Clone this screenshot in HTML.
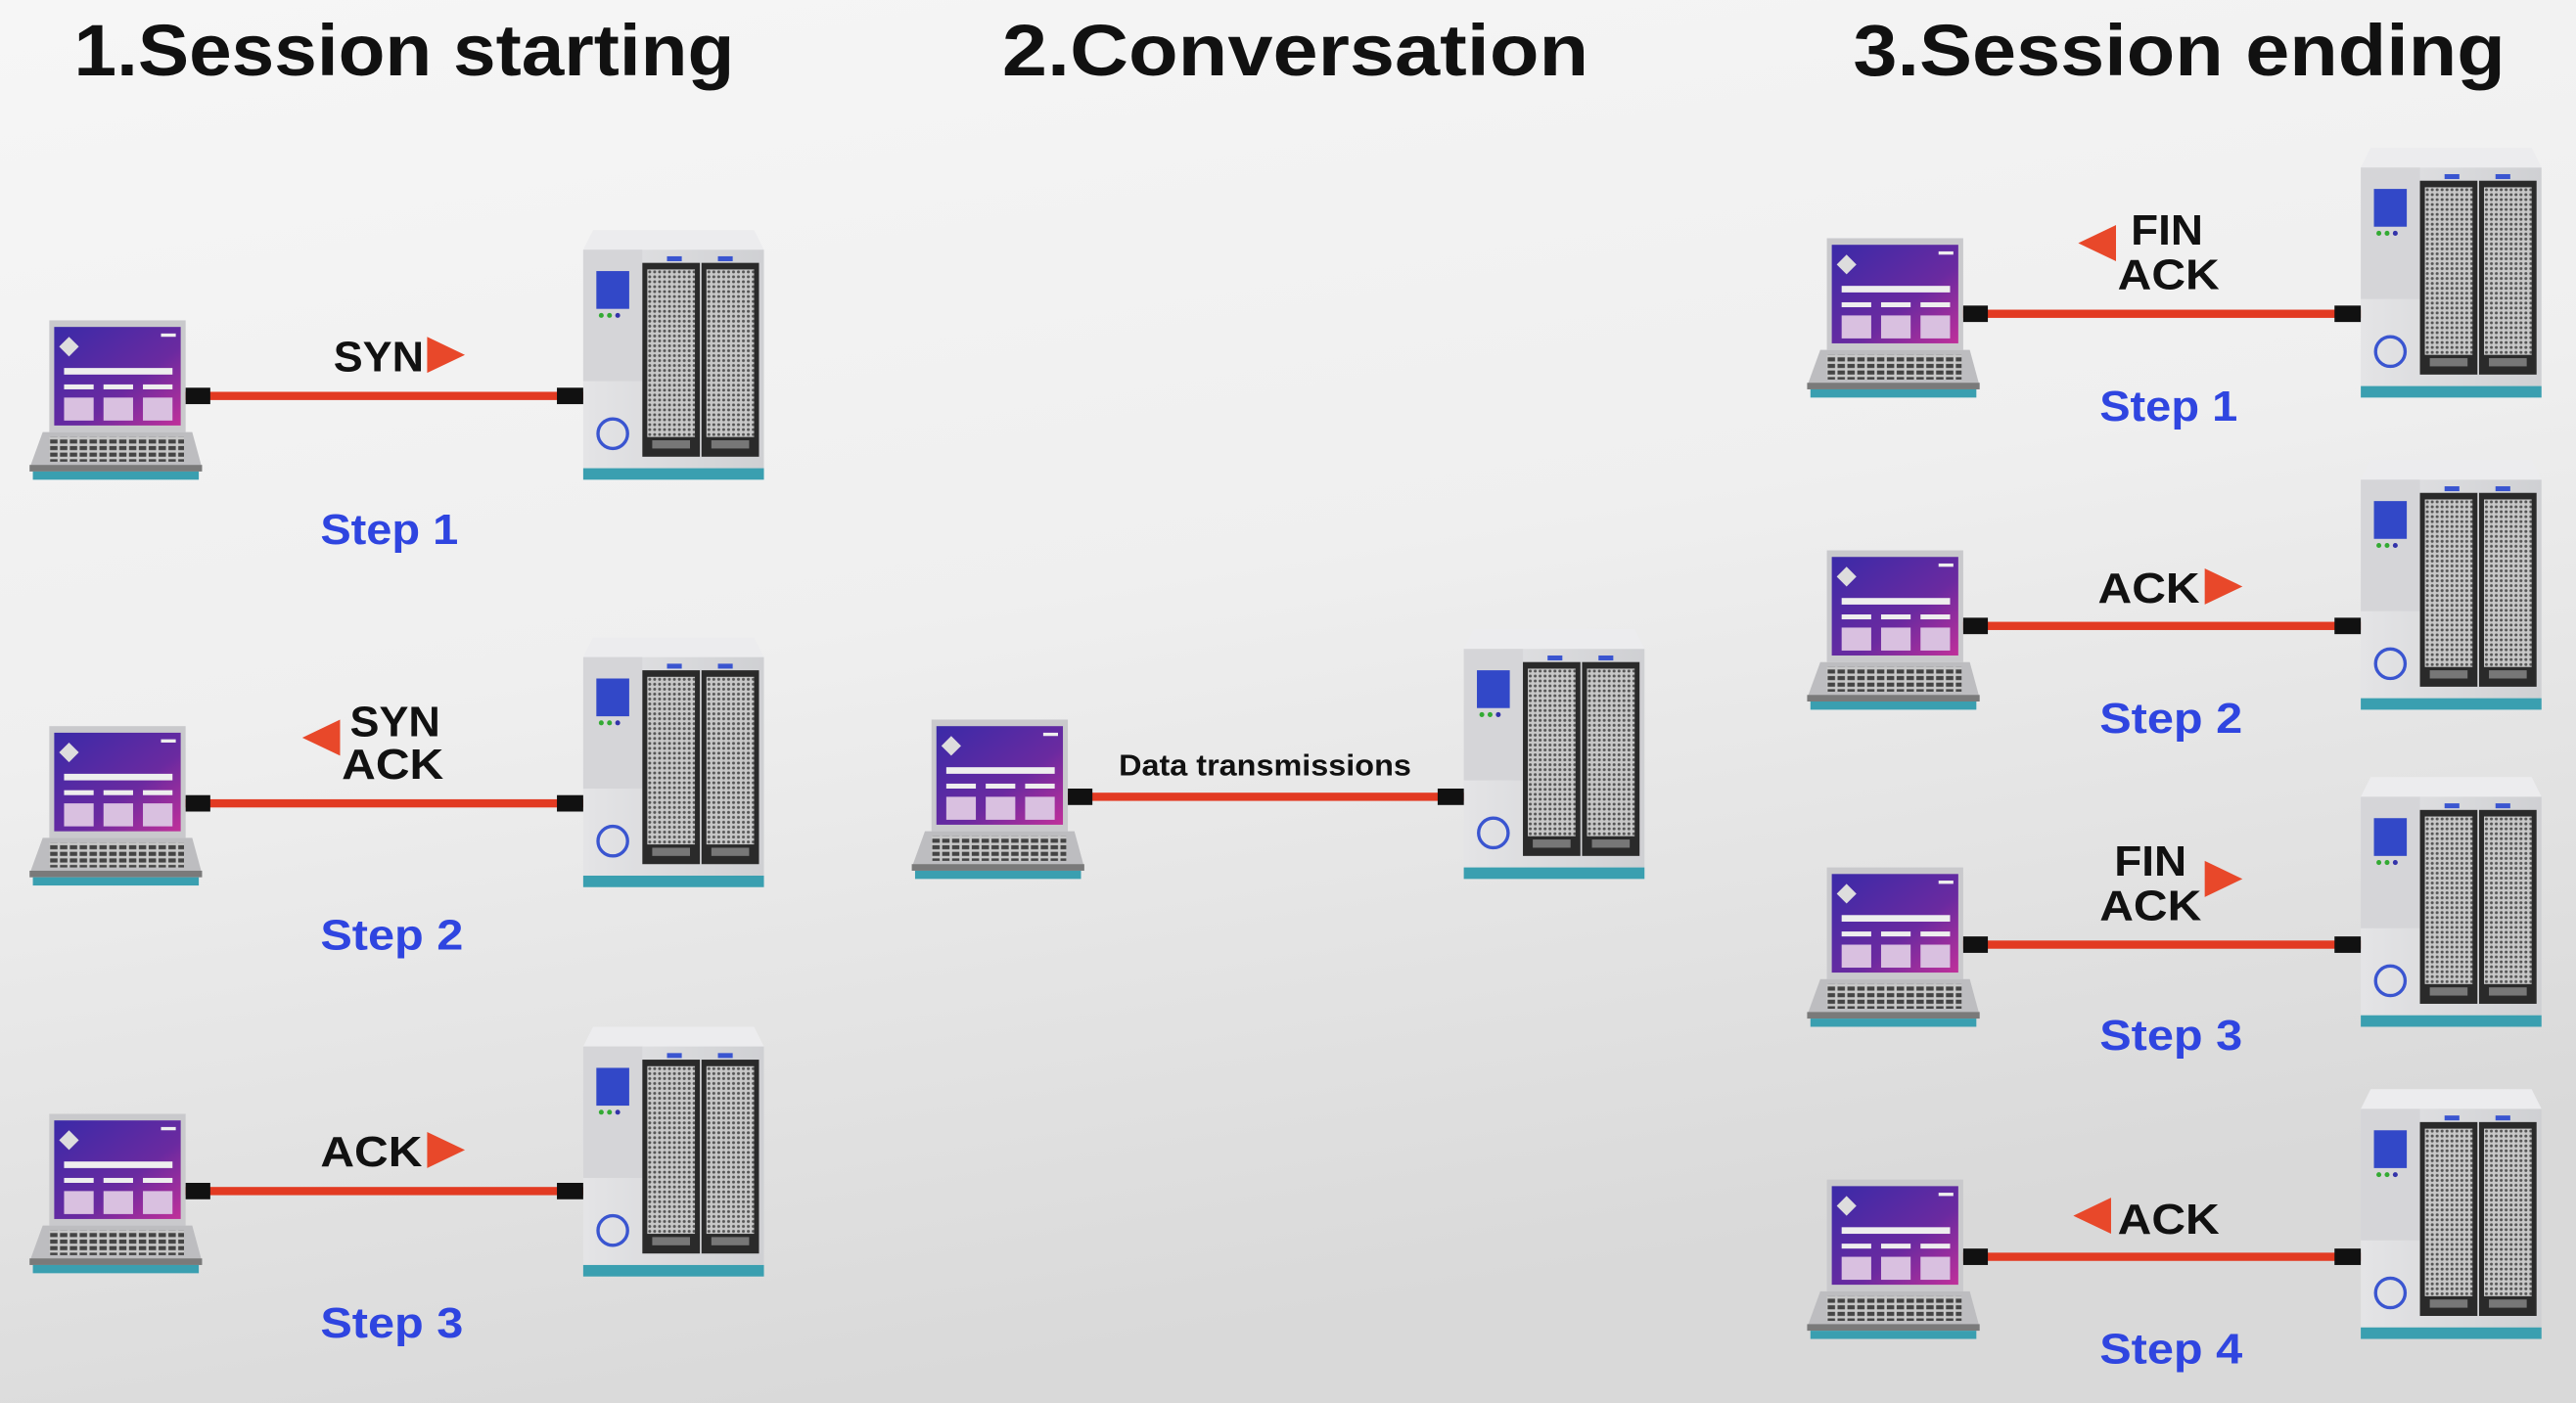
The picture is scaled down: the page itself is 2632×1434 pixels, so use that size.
<!DOCTYPE html>
<html><head><meta charset="utf-8"><style>
html,body{margin:0;padding:0;width:2632px;height:1434px;overflow:hidden}
svg{display:block}
text{font-family:"Liberation Sans",sans-serif}
</style></head><body>
<svg width="2632" height="1434" viewBox="0 0 1568 854" preserveAspectRatio="none" xmlns="http://www.w3.org/2000/svg">
<defs>
<linearGradient id="bg" x1="0" y1="0" x2="0.3" y2="1">
<stop offset="0" stop-color="#f6f6f6"/><stop offset="0.5" stop-color="#efefef"/><stop offset="1" stop-color="#d9d9d9"/></linearGradient>
<linearGradient id="scr" x1="0" y1="0" x2="1" y2="1">
<stop offset="0" stop-color="#3a2aa8"/><stop offset="0.6" stop-color="#6a2aa0"/><stop offset="1" stop-color="#c0309a"/></linearGradient>
<linearGradient id="srv" x1="0" y1="0" x2="1" y2="0">
<stop offset="0" stop-color="#e4e4e6"/><stop offset="1" stop-color="#cfd0d3"/></linearGradient>
<pattern id="dots" width="3" height="3" patternUnits="userSpaceOnUse">
<rect width="3" height="3" fill="#c8c8c8"/><circle cx="1.5" cy="1.5" r="0.9" fill="#555"/></pattern>
<pattern id="keys" width="6" height="4" patternUnits="userSpaceOnUse">
<rect width="6" height="4" fill="#c8c8c8"/><rect x="0.5" y="0.5" width="4.5" height="2.5" fill="#444"/></pattern>
<g id="laptop">
<rect x="12" y="0" width="83" height="68" fill="#c9c9cc"/>
<rect x="15" y="4" width="77" height="60" fill="url(#scr)"/>
<path d="M24 10 l6 6 -6 6 -6 -6z" fill="#ddd"/>
<rect x="80" y="8" width="9" height="2" fill="#eee"/>
<rect x="21" y="29" width="66" height="4" fill="#eee"/>
<rect x="21" y="39" width="18" height="3" fill="#eee"/><rect x="45" y="39" width="18" height="3" fill="#eee"/><rect x="69" y="39" width="18" height="3" fill="#eee"/>
<rect x="21" y="47" width="18" height="14" fill="#d9c0e0"/><rect x="45" y="47" width="18" height="14" fill="#d9c0e0"/><rect x="69" y="47" width="18" height="14" fill="#d9c0e0"/>
<path d="M8 68 L99 68 L105 90 L0 90 Z" fill="#bdbdc0"/>
<rect x="12" y="71" width="82" height="15" fill="url(#keys)"/>
<rect x="0" y="88" width="105" height="4" fill="#7a7a7a"/>
<rect x="2" y="92" width="101" height="5" fill="#3a9fb0"/>
</g>
<g id="server">
<path d="M6 0 L104 0 L110 12 L0 12 Z" fill="#ececee"/>
<rect x="0" y="12" width="110" height="133" fill="url(#srv)"/>
<rect x="0" y="12" width="36" height="80" fill="#d5d5d8"/>
<rect x="8" y="25" width="20" height="23" fill="#3248c8"/>
<circle cx="11" cy="52" r="1.5" fill="#3a3"/><circle cx="16" cy="52" r="1.5" fill="#3a3"/><circle cx="21" cy="52" r="1.5" fill="#33a"/>
<circle cx="18" cy="124" r="9" fill="none" stroke="#3a55d0" stroke-width="2"/>
<rect x="51" y="16" width="9" height="3" fill="#3a55d0"/><rect x="82" y="16" width="9" height="3" fill="#3a55d0"/>
<rect x="36" y="20" width="35" height="118" fill="#2a2a2a"/><rect x="72" y="20" width="35" height="118" fill="#2a2a2a"/>
<rect x="39" y="24" width="29" height="102" fill="url(#dots)"/><rect x="75" y="24" width="29" height="102" fill="url(#dots)"/>
<rect x="42" y="128" width="23" height="5" fill="#777"/><rect x="78" y="128" width="23" height="5" fill="#777"/>
<rect x="0" y="145" width="110" height="7" fill="#3a9fb0"/>
</g>
<g id="cable">
<rect x="0" y="-2.5" width="242" height="5" fill="#e23a22"/>
<rect x="0" y="-5" width="15" height="10" fill="#111"/>
<rect x="226" y="-5" width="16" height="10" fill="#111"/>
</g>
<path id="ar" d="M0 -11 L23 0 L0 11 Z" fill="#e8482a"/>
<path id="al" d="M23 -11 L0 0 L23 11 Z" fill="#e8482a"/>
</defs>
<rect width="1568" height="854" fill="url(#bg)"/>

<g font-weight="bold" font-size="44" fill="#111">
<text x="45" y="46" textLength="402" lengthAdjust="spacingAndGlyphs">1.Session starting</text>
<text x="610" y="46" textLength="357" lengthAdjust="spacingAndGlyphs">2.Conversation</text>
<text x="1128" y="46" textLength="397" lengthAdjust="spacingAndGlyphs">3.Session ending</text>
</g>

<use href="#laptop" x="18" y="195"/><use href="#server" x="355" y="140"/><use href="#cable" x="113" y="241"/>
<use href="#laptop" x="18" y="442"/><use href="#server" x="355" y="388"/><use href="#cable" x="113" y="489"/>
<use href="#laptop" x="18" y="678"/><use href="#server" x="355" y="625"/><use href="#cable" x="113" y="725"/>

<use href="#laptop" x="555" y="438"/><use href="#server" x="891" y="383"/>
<g transform="translate(650,485) scale(0.996,1)"><use href="#cable"/></g>

<use href="#laptop" x="1100" y="145"/><use href="#server" x="1437" y="90"/><use href="#cable" x="1195" y="191"/>
<use href="#laptop" x="1100" y="335"/><use href="#server" x="1437" y="280"/><use href="#cable" x="1195" y="381"/>
<use href="#laptop" x="1100" y="528"/><use href="#server" x="1437" y="473"/><use href="#cable" x="1195" y="575"/>
<use href="#laptop" x="1100" y="718"/><use href="#server" x="1437" y="663"/><use href="#cable" x="1195" y="765"/>

<g font-size="26" font-weight="bold" fill="#111">
<text x="203" y="226" textLength="55" lengthAdjust="spacingAndGlyphs">SYN</text>
<text x="213" y="448" textLength="55" lengthAdjust="spacingAndGlyphs">SYN</text>
<text x="208" y="474" textLength="62" lengthAdjust="spacingAndGlyphs">ACK</text>
<text x="195" y="710" textLength="62" lengthAdjust="spacingAndGlyphs">ACK</text>
<text x="1297" y="149" textLength="44" lengthAdjust="spacingAndGlyphs">FIN</text>
<text x="1289" y="176" textLength="62" lengthAdjust="spacingAndGlyphs">ACK</text>
<text x="1277" y="367" textLength="62" lengthAdjust="spacingAndGlyphs">ACK</text>
<text x="1287" y="533" textLength="44" lengthAdjust="spacingAndGlyphs">FIN</text>
<text x="1278" y="560" textLength="62" lengthAdjust="spacingAndGlyphs">ACK</text>
<text x="1289" y="751" textLength="62" lengthAdjust="spacingAndGlyphs">ACK</text>
</g>
<text x="681" y="472" font-size="18" font-weight="bold" fill="#111" textLength="178" lengthAdjust="spacingAndGlyphs">Data transmissions</text>
<use href="#ar" x="260" y="216"/>
<use href="#al" x="184" y="449"/>
<use href="#ar" x="260" y="700"/>
<use href="#al" x="1265" y="148"/>
<use href="#ar" x="1342" y="357"/>
<use href="#ar" x="1342" y="535"/>
<use href="#al" x="1262" y="740"/>

<g font-size="26" font-weight="bold" fill="#2f45e0">
<text x="195" y="331" textLength="84" lengthAdjust="spacingAndGlyphs">Step 1</text>
<text x="195" y="578" textLength="87" lengthAdjust="spacingAndGlyphs">Step 2</text>
<text x="195" y="814" textLength="87" lengthAdjust="spacingAndGlyphs">Step 3</text>
<text x="1278" y="256" textLength="84" lengthAdjust="spacingAndGlyphs">Step 1</text>
<text x="1278" y="446" textLength="87" lengthAdjust="spacingAndGlyphs">Step 2</text>
<text x="1278" y="639" textLength="87" lengthAdjust="spacingAndGlyphs">Step 3</text>
<text x="1278" y="830" textLength="87" lengthAdjust="spacingAndGlyphs">Step 4</text>
</g>
</svg>
</body></html>
